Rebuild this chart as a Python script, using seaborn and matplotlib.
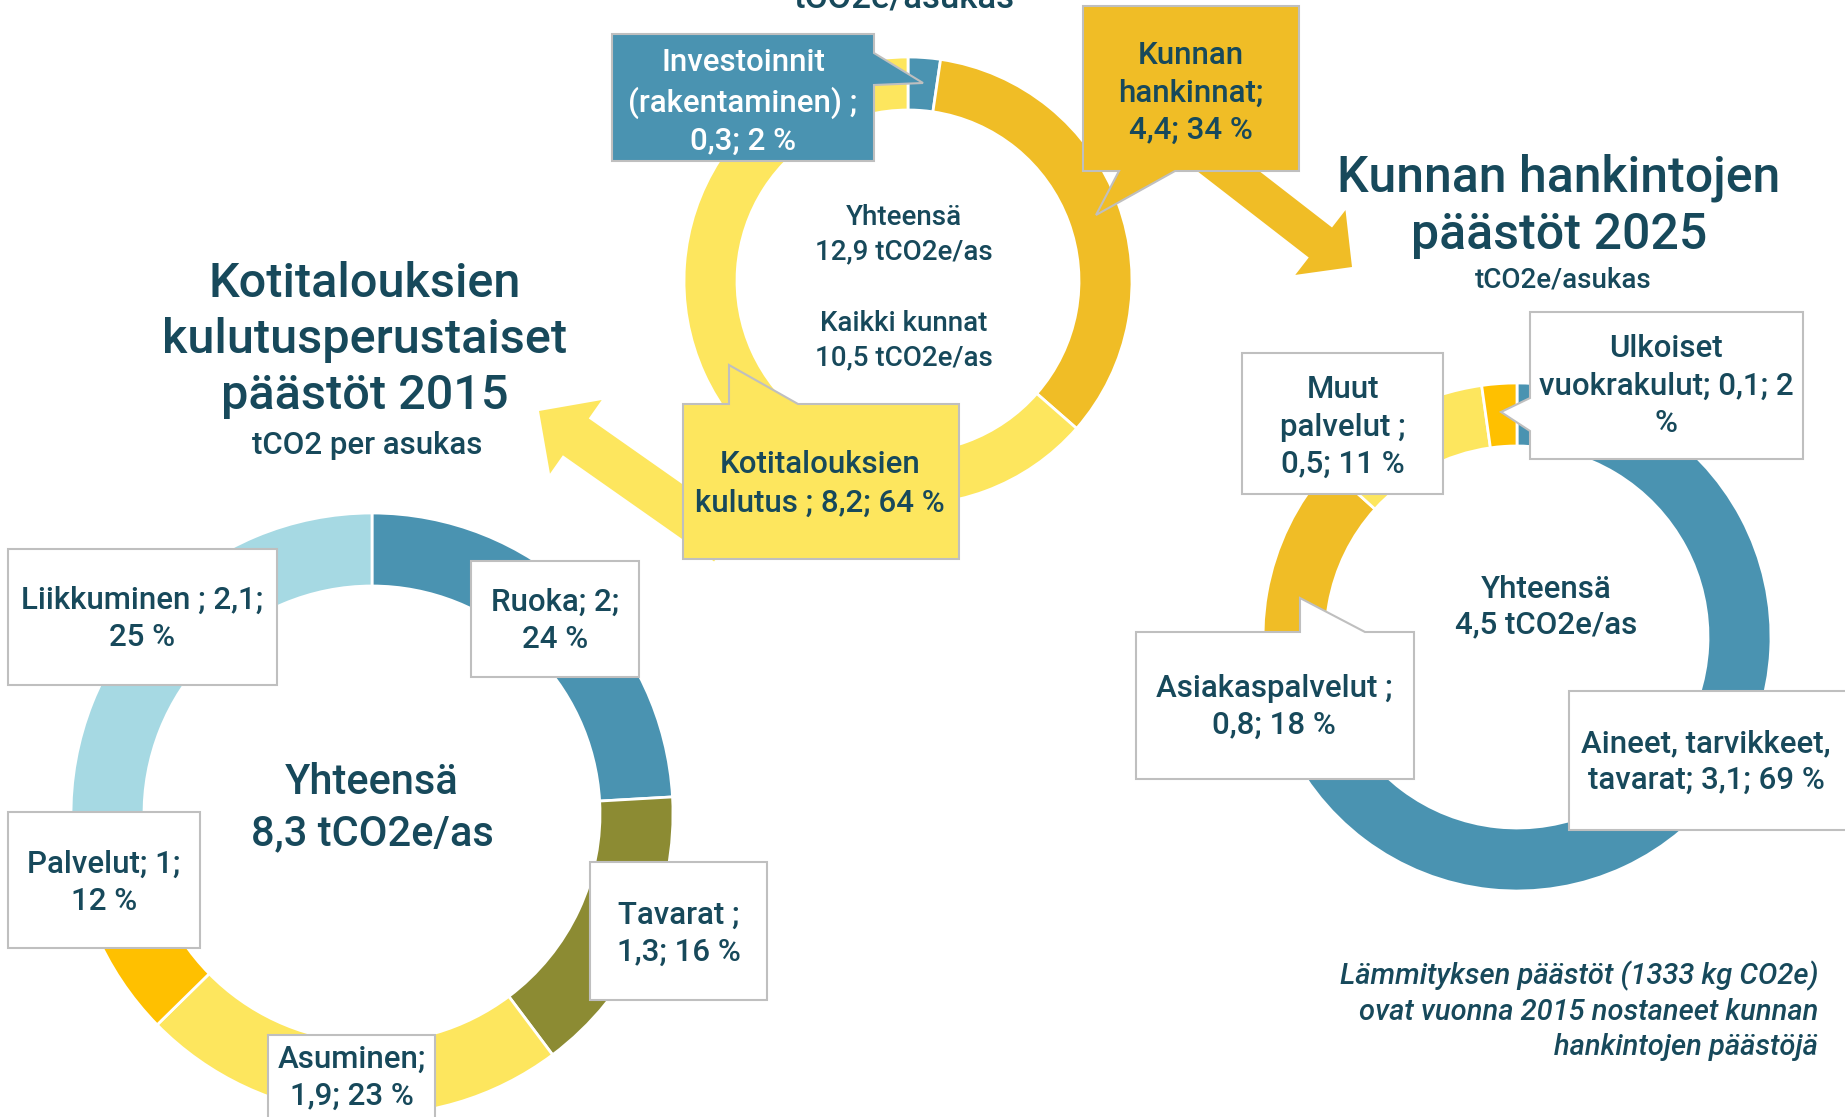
import matplotlib
matplotlib.use("Agg")
import matplotlib.pyplot as plt
import seaborn as sns
from matplotlib.patches import Polygon, FancyArrow

W, H = 1845, 1117

# --- data -------------------------------------------------------------
top_names = ["Investoinnit (rakentaminen)", "Kunnan hankinnat", "Kotitalouksien kulutus"]
top_values = [0.3, 4.4, 8.2]
top_labels = ["Investoinnit\n(rakentaminen) ;\n0,3; 2 %",
              "Kunnan\nhankinnat;\n4,4; 34 %",
              "Kotitalouksien\nkulutus ; 8,2; 64 %"]
all_munis = 10.5

home_names = ["Ruoka", "Tavarat", "Asuminen", "Palvelut", "Liikkuminen"]
home_values = [2, 1.3, 1.9, 1, 2.1]
home_labels = ["Ruoka; 2;\n24 %", "Tavarat ;\n1,3; 16 %", "Asuminen;\n1,9; 23 %",
               "Palvelut; 1;\n12 %", "Liikkuminen ; 2,1;\n25 %"]

muni_names = ["Aineet, tarvikkeet, tavarat", "Asiakaspalvelut", "Muut palvelut",
              "Ulkoiset vuokrakulut"]
muni_values = [3.1, 0.8, 0.5, 0.1]
muni_labels = ["Aineet, tarvikkeet,\ntavarat; 3,1; 69 %", "Asiakaspalvelut ;\n0,8; 18 %",
               "Muut\npalvelut ;\n0,5; 11 %", "Ulkoiset\nvuokrakulut; 0,1; 2\n%"]

# --- colours ----------------------------------------------------------
TEAL = "#17495B"
BLUE = "#4A93B1"
GOLD = "#F0BD26"
LYEL = "#FDE65E"
ORNG = "#FFC000"
OLIVE = "#8C8B33"
LBLUE = "#A6D9E3"
EDGE = "#BFBFBF"

top_colors = sns.color_palette([BLUE, GOLD, LYEL])
home_colors = sns.color_palette([BLUE, OLIVE, LYEL, ORNG, LBLUE])
muni_colors = sns.color_palette([BLUE, GOLD, LYEL, ORNG])

sns.set_theme(style="white")
plt.rcParams['font.family'] = ['Roboto', 'DejaVu Sans']
plt.rcParams['font.weight'] = 'medium'


def fi(x):
    return f"{x:.1f}".replace(".", ",")


def donut(ax, values, colors, cx, cy, r, w):
    ax.pie(values, colors=colors, startangle=90, counterclock=False,
           center=(cx, H - cy), radius=r,
           wedgeprops=dict(width=w, edgecolor="white", linewidth=2, zorder=2))


def callout(ax, x0, y0, x1, y1, fc, pointer=None, edge=None):
    # corners TL, TR, BR, BL; pointer pts inserted after the edge start corner
    pts = [(x0, y0), (x1, y0), (x1, y1), (x0, y1)]
    order = {"top": 0, "right": 1, "bottom": 2, "left": 3}
    if pointer:
        i = order[edge] + 1
        pts = pts[:i] + pointer + pts[i:]
    pts = [(x, H - y) for x, y in pts]
    ax.add_patch(Polygon(pts, closed=True, fc=fc, ec=EDGE, lw=1.5, zorder=3))


def label(ax, x, y, s, size=22.5, color=TEAL, ls=1.35, **kw):
    ax.text(x, H - y, s, ha="center", va="center", fontsize=size, color=color,
            linespacing=ls, zorder=4, **kw)


fig = plt.figure(figsize=(W / 100, H / 100), dpi=100)
ax = fig.add_axes([0, 0, 1, 1])

# arrows between the charts
ax.add_patch(FancyArrow(727, H - 543, -188, 132, width=45, head_width=90, head_length=45,
                        length_includes_head=True, fc=LYEL, ec="none", zorder=1))
ax.add_patch(FancyArrow(1170, H - 126, 182, -141, width=38, head_width=82, head_length=40,
                        length_includes_head=True, fc=GOLD, ec="none", zorder=1))

# donuts
donut(ax, top_values, top_colors, 908, 281, 224, 53)
donut(ax, home_values, home_colors, 372, 814, 301, 73)
donut(ax, muni_values, muni_colors, 1517, 637, 254, 63)

# top chart
ax.text(904, H - 8, "tCO2e/asukas", ha="center", va="baseline", fontsize=25,
        color=TEAL)
callout(ax, 612, 34, 874, 161, BLUE, [(874, 53), (923, 83), (874, 85)], "right")
label(ax, 743, 102, top_labels[0], color="white")
callout(ax, 1083, 6, 1299, 171, GOLD, [(1175, 171), (1096, 215), (1119, 171)], "bottom")
label(ax, 1191, 93, top_labels[1])
callout(ax, 683, 404, 959, 559, LYEL, [(729, 404), (729, 365), (798, 404)], "top")
label(ax, 820, 484, top_labels[2], ls=1.4)
label(ax, 904, 235, f"Yhteensä\n{fi(sum(top_values))} tCO2e/as", size=20, ls=1.36)
label(ax, 904, 341, f"Kaikki kunnat\n{fi(all_munis)} tCO2e/as", size=20, ls=1.36)

# households chart
label(ax, 365, 340, "Kotitalouksien\nkulutusperustaiset\npäästöt 2015", size=35,
      ls=1.28)
label(ax, 367, 445, "tCO2 per asukas", size=22.5)
label(ax, 372, 808, f"Yhteensä\n{fi(sum(home_values))} tCO2e/as", size=30, ls=1.3)
home_boxes = [(471, 561, 639, 677), (590, 862, 767, 1000), (268, 1035, 435, 1130),
              (8, 812, 200, 948), (8, 549, 277, 685)]
home_text_y = [621, 934, 1078, 883, 619]
for (x0, y0, x1, y1), ty, s in zip(home_boxes, home_text_y, home_labels):
    callout(ax, x0, y0, x1, y1, "white")
    label(ax, (x0 + x1) / 2, ty, s)

# municipal purchases chart
label(ax, 1559, 206, "Kunnan hankintojen\npäästöt 2025", size=36, ls=1.25)
label(ax, 1563, 280, "tCO2e/asukas", size=20)
label(ax, 1546, 607, f"Yhteensä\n{fi(sum(muni_values))} tCO2e/as", size=22.5, ls=1.3)
callout(ax, 1569, 691, 1850, 830, "white")
label(ax, 1706, 762, muni_labels[0])
callout(ax, 1136, 632, 1414, 779, "white", [(1300, 632), (1300, 598), (1365, 632)], "top")
label(ax, 1274, 707, muni_labels[1])
callout(ax, 1242, 353, 1443, 494, "white")
label(ax, 1343, 427, muni_labels[2])
callout(ax, 1530, 312, 1803, 459, "white", [(1530, 431), (1501, 412), (1530, 398)], "left")
label(ax, 1666, 386, muni_labels[3])

ax.text(1818, H - 1011,
        "Lämmityksen päästöt (1333 kg CO2e)\novat vuonna 2015 nostaneet kunnan\nhankintojen päästöjä",
        ha="right", va="center", fontsize=21, style="italic", color=TEAL,
        linespacing=1.32, multialignment="right")

ax.set_xlim(0, W)
ax.set_ylim(0, H)
ax.set_aspect("equal")
ax.axis("off")
fig.savefig("out.png", dpi=100, facecolor="white")
